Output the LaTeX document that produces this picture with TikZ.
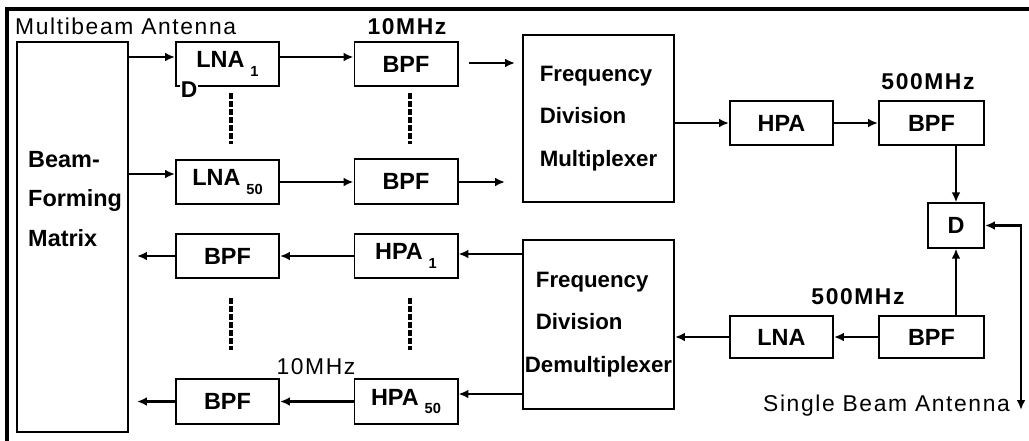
\documentclass[tikz,border=0pt]{standalone}
\usepackage{fontspec}
\setmainfont{Liberation Sans}
\newfontfamily\spacedfont[LetterSpace=7]{Liberation Sans}
\usetikzlibrary{arrows.meta, positioning, calc}

\newcommand{\lowidx}[1]{\hspace{0.25em}\raisebox{-0.35em}{\fontsize{12.5}{12.5}\selectfont #1}}

\begin{document}
\begin{tikzpicture}[
    x=0.03cm, y=-0.03cm,
    block/.style={rectangle, draw, line width=1.7pt, minimum width=3.09cm, minimum height=1.33cm, inner sep=0pt, font=\bfseries\fontsize{20}{24}\selectfont},
    bigblock/.style={block, minimum width=4.53cm, align=left, font=\bfseries\fontsize{19}{36}\selectfont},
    line/.style={draw, -{Latex[length=8.5pt, width=7.5pt]}, line width=2pt},
    twoway/.style={line, {Latex[length=8.5pt, width=7.5pt]}-{Latex[length=8.5pt, width=7.5pt]}},
    dashline/.style={draw, line width=2.8pt, dash pattern=on 5pt off 1.8pt},
    tag/.style={inner sep=0pt, font=\spacedfont\fontsize{19.5}{23}\selectfont},
    boldtag/.style={inner sep=0pt, font=\spacedfont\bfseries\fontsize{19.5}{23}\selectfont}
]
    \useasboundingbox (0,0) rectangle (1029,440);
    \draw [line width=3.2pt] (7,450) -- (7,9) -- (1040,9);

    % multibeam side
    \node [block, minimum width=3.33cm, minimum height=11.7cm] (bfm) at (72.5,237) {};
    \node [anchor=west, align=left, inner sep=0pt, font=\bfseries\fontsize{20}{33.6}\selectfont] (bfmtext) at (28,199) {Beam-\\Forming\\Matrix};
    \node [tag, anchor=west] (mba) at (15,26) {Multibeam Antenna};

    \node [block] (lna1) at (227.5,64) {LNA\lowidx{1}};
    \node [block] (lna50) at (227.5,182) {LNA\lowidx{50}};
    \node [block] (bpf1) at (406,64) {BPF};
    \node [block] (bpf50) at (406,181.5) {BPF};
    \node [boldtag, fill=white, inner sep=0.6pt] (dlbl) at (189,90) {D};
    \node [boldtag] (f10a) at (407,27) {10MHz};

    \node [block] (bpfc) at (227.5,256) {BPF};
    \node [block] (hpa1) at (406,256) {HPA\lowidx{1}};
    \node [block] (bpfd) at (227.5,401.5) {BPF};
    \node [block] (hpa50) at (406,401.5) {HPA\lowidx{50}};
    \node [tag] (f10b) at (316,367) {10MHz};

    % multiplexers
    \node [bigblock, minimum height=5.01cm] (fdm) at (598.5,118.5) {Frequency\\Division\\Multiplexer};
    \node [bigblock, minimum height=5.07cm] (fddm) at (598.5,324.5) {\hspace*{0.33cm}Frequency\\\hspace*{0.33cm}Division\\Demultiplexer};

    % single beam side
    \node [block] (hpa) at (781.5,123) {HPA};
    \node [block, minimum width=3.15cm] (bpfa) at (931.5,123) {BPF};
    \node [boldtag] (f500a) at (928,82) {500MHz};
    \node [block, minimum width=1.68cm] (dsw) at (956,225.5) {D};
    \node [block, minimum height=1.26cm] (lnab) at (781.5,337) {LNA};
    \node [block, minimum width=3.15cm, minimum height=1.26cm] (bpfb) at (931.5,337) {BPF};
    \node [boldtag] (f500b) at (858,297) {500MHz};
    \node [tag, anchor=west] (sba) at (763,406) {Single Beam Antenna};

    \coordinate (fa) at (515,63);
    \coordinate (fb) at (505,182);
    \coordinate (ba) at (137,256);
    \coordinate (bb) at (137,401.5);
    \coordinate (sbend) at (1021,410);

    % receive chain
    \draw [line] (bfm.east |- 0,57) -- (lna1.west |- 0,57);
    \draw [line] (lna1.east |- 0,57) -- (bpf1.west |- 0,57);
    \draw [line] ([xshift=0.3cm]bpf1.east |- fa) -- (fa);
    \draw [line] (bfm.east |- 0,174) -- (lna50.west |- 0,174);
    \draw [line] (lna50.east) -- (bpf50.west |- lna50);
    \draw [line] (bpf50.east |- fb) -- (fb);
    \draw [line] (fdm.east |- hpa) -- (hpa.west);
    \draw [line] (hpa) -- (bpfa);
    \draw [line] (bpfa.south -| dsw) -- (dsw.north);

    % transmit chain
    \draw [line] (bpfb.north -| dsw) -- (dsw.south);
    \draw [line] (bpfb.west) -- (lnab.east);
    \draw [line] (lnab.west) -- (fddm.east |- lnab);
    \draw [line] (fddm.west |- 0,254) -- (hpa1.east |- 0,254);
    \draw [line] (hpa1.west) -- (bpfc.east);
    \draw [line] (bpfc.west) -- (ba);
    \draw [line] (fddm.west |- 0,394) -- (hpa50.east |- 0,394);
    \draw [line] (hpa50.west) -- (bpfd.east);
    \draw [line] (bpfd.west) -- (bb);
    \draw [twoway] (dsw.east) -| (sbend);

    % omitted channels
    \draw [dashline] (231,93) -- (231,144);
    \draw [dashline] (410,93) -- (410,144);
    \draw [dashline] (231,298) -- (231,350);
    \draw [dashline] (410,298) -- (410,350);

\end{tikzpicture}
\end{document}
